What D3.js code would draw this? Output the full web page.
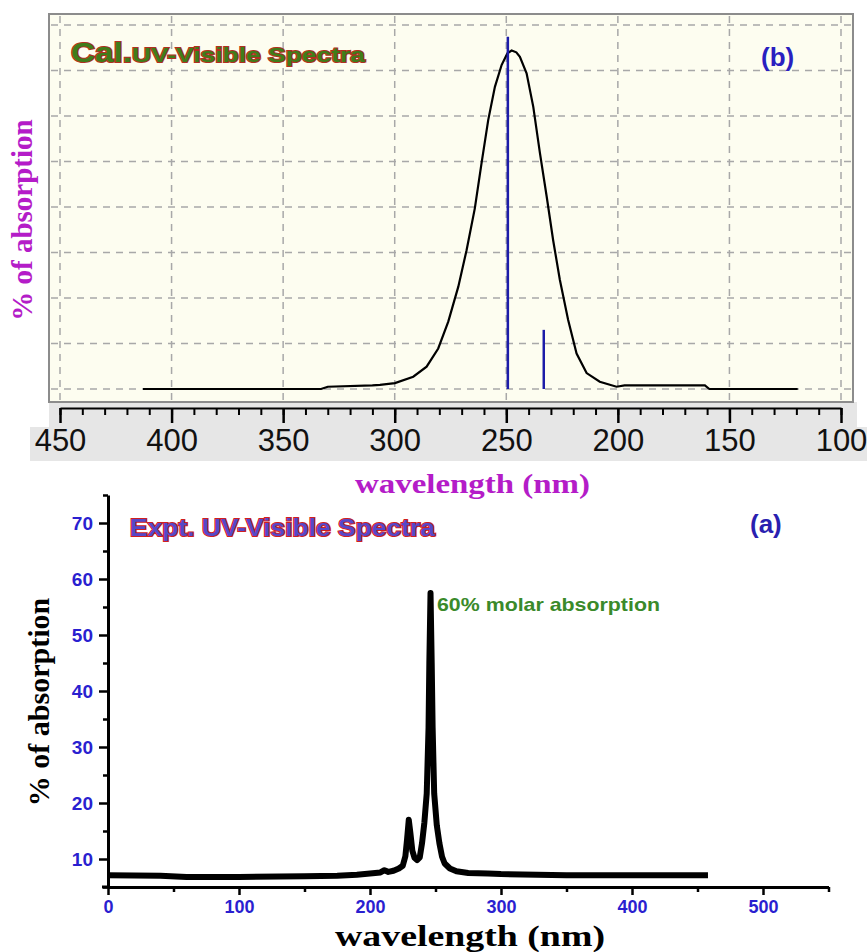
<!DOCTYPE html>
<html>
<head>
<meta charset="utf-8">
<script src="https://cdn.jsdelivr.net/npm/d3@7"></script>
<style>
  body { margin: 0; background: #fff; }
  svg { display: block; }
</style>
</head>
<body>
<div id="chart"></div>
<script>
// panel (b): calculated spectrum, [wavelength nm, relative absorption]
const calCurve = [
  [412.8, 0], [333, 0], [330, 0.05], [310, 0.08], [306.6, 0.09], [299.9, 0.13],
  [291.7, 0.27], [285.7, 0.49], [280.5, 0.89], [276.0, 1.48], [271.5, 2.25],
  [267.8, 3.05], [264.1, 3.97], [261.1, 4.96], [258.1, 5.91], [255.1, 6.64],
  [252.1, 7.12], [249.5, 7.38], [247.6, 7.44], [245.5, 7.40], [243.9, 7.30],
  [240.9, 6.94], [237.9, 6.20], [234.9, 5.18], [231.9, 4.23], [229.0, 3.27],
  [226.0, 2.40], [222.3, 1.52], [218.5, 0.78], [214.0, 0.35], [208.1, 0.16],
  [200.6, 0.05], [197, 0.08], [161, 0.08], [159, 0], [119.4, 0]
];
const calSticks = [[249.3, 7.74], [233.2, 1.30]];
const calTicks = [450, 400, 350, 300, 250, 200, 150, 100];
const calGrid = [0, 1, 2, 3, 4, 5, 6, 7, 8];

// panel (a): experimental spectrum, [wavelength nm, % absorption]
const exptCurve = [
  [0, 7.1], [40, 7.0], [60, 6.8], [100, 6.8], [150, 6.9], [175, 7.0], [190, 7.2],
  [200, 7.4], [208, 7.6], [211, 8.0], [214, 7.7], [218, 7.9], [222, 8.3],
  [225, 8.8], [227, 10.5], [228.3, 13.5], [229.6, 17.0], [230.9, 14.5],
  [232.3, 11.5], [234, 10.2], [235.9, 9.8], [238, 10.3], [239.7, 12.8],
  [241.5, 16.5], [243.3, 21.7], [244.7, 33.5], [245.3, 45], [246.2, 57.5],
  [247.1, 45], [247.8, 33.5], [249.0, 21.7], [251, 16], [253, 12.8], [255, 10.4],
  [257, 9.2], [261, 8.3], [266, 7.8], [275, 7.5], [290, 7.4], [300, 7.3],
  [350, 7.1], [400, 7.1], [458, 7.1]
];
const exptXTicks = [0, 100, 200, 300, 400, 500];
const exptYTicks = [10, 20, 30, 40, 50, 60, 70];

const width = 867;
const height = 952;
const svg = d3.select("#chart")
  .append("svg")
  .attr("width", width)
  .attr("height", height)
  .attr("viewBox", [0, 0, width, height]);

//---------------- panel (b) ----------------
const frame = {l: 49, r: 853, t: 14, b: 402};
const xTop = d3.scaleLinear().domain([450, 100]).range([60, 841]);
const yTop = d3.scaleLinear().domain([0, 8]).range([389, 25]);

// grey axis band
svg.append("rect").attr("x", 49).attr("y", frame.b).attr("width", 808).attr("height", 26).attr("fill", "#e6e6e6");
svg.append("rect").attr("x", 30).attr("y", 427).attr("width", 837).attr("height", 34).attr("fill", "#e6e6e6");

svg.append("rect")
  .attr("x", frame.l).attr("y", frame.t)
  .attr("width", frame.r - frame.l).attr("height", frame.b - frame.t)
  .attr("fill", "#fdfdf0")
  .attr("stroke", "#8c8c8c")
  .attr("stroke-width", 2);

// dashed grid
svg.append("g").selectAll("line")
  .data(calTicks).enter().append("line")
  .attr("x1", d => xTop(d)).attr("x2", d => xTop(d))
  .attr("y1", frame.t + 2).attr("y2", frame.b - 2)
  .attr("stroke", "#a8a8a8").attr("stroke-width", 1.5).attr("stroke-dasharray", "7,6");
svg.append("g").selectAll("line")
  .data(calGrid).enter().append("line")
  .attr("x1", frame.l + 2).attr("x2", frame.r - 2)
  .attr("y1", d => yTop(d)).attr("y2", d => yTop(d))
  .attr("stroke", "#a8a8a8").attr("stroke-width", 1.5).attr("stroke-dasharray", "7,6");

// curve
const lineTop = d3.line().x(d => xTop(d[0])).y(d => yTop(d[1]));
svg.append("path")
  .datum(calCurve)
  .attr("d", lineTop)
  .attr("fill", "none")
  .attr("stroke", "#000")
  .attr("stroke-width", 2.2);

// oscillator sticks
svg.append("g").selectAll("line")
  .data(calSticks).enter().append("line")
  .attr("x1", d => xTop(d[0])).attr("x2", d => xTop(d[0]))
  .attr("y1", yTop(0)).attr("y2", d => yTop(d[1]))
  .attr("stroke", "#1c1ca8").attr("stroke-width", 2.5);

// axis with minor ticks
const axTopMinor = svg.append("g")
  .attr("transform", "translate(0,408)")
  .call(d3.axisBottom(xTop).ticks(35).tickSize(7).tickSizeOuter(0).tickFormat(""));
axTopMinor.selectAll("line").attr("stroke-width", 2);
axTopMinor.select(".domain").attr("stroke-width", 2);

const axTop = svg.append("g")
  .attr("transform", "translate(0,408)")
  .call(d3.axisBottom(xTop).tickValues(calTicks).tickSize(15).tickSizeOuter(0).tickPadding(6));
axTop.select(".domain").remove();
axTop.selectAll("line").attr("stroke-width", 2.5);
axTop.selectAll("text")
  .attr("font-family", "'Liberation Sans Narrow', 'Liberation Sans', sans-serif")
  .attr("font-size", 31)
  .attr("fill", "#111");

svg.append("text")
  .attr("transform", "translate(22,220) rotate(-90)")
  .attr("text-anchor", "middle")
  .attr("dy", "0.35em")
  .attr("font-family", "'Liberation Serif', serif")
  .attr("font-weight", "bold")
  .attr("font-size", 29)
  .attr("fill", "#b41cc8")
  .text("% of absorption");

svg.append("text")
  .attr("x", 355).attr("y", 493)
  .attr("textLength", 235)
  .attr("lengthAdjust", "spacingAndGlyphs")
  .attr("font-family", "'Liberation Serif', serif")
  .attr("font-weight", "bold")
  .attr("font-size", 27)
  .attr("fill", "#b41cc8")
  .text("wavelength (nm)");

const calTitle = svg.append("text")
  .attr("x", 71).attr("y", 62)
  .attr("font-family", "'Liberation Sans', Arial, sans-serif")
  .attr("font-weight", "bold")
  .attr("fill", "#3f7d1a")
  .attr("stroke", "#b03020")
  .attr("stroke-width", 2)
  .attr("paint-order", "stroke");
calTitle.append("tspan").attr("font-size", 27).attr("textLength", 61).attr("lengthAdjust", "spacingAndGlyphs").text("Cal.");
calTitle.append("tspan").attr("font-size", 21).attr("textLength", 233).attr("lengthAdjust", "spacingAndGlyphs").text("UV-Visible Spectra");

svg.append("text")
  .attr("x", 761).attr("y", 66)
  .attr("font-family", "'Liberation Sans', Arial, sans-serif")
  .attr("font-weight", "bold")
  .attr("font-size", 26)
  .attr("fill", "#2a1fc0")
  .text("(b)");

//---------------- panel (a) ----------------
const xBot = d3.scaleLinear().domain([0, 550]).range([108, 828.5]);
const yBot = d3.scaleLinear().domain([5, 75]).range([887, 495]);
const tickBlue = "#2a1fd0";

const axY = svg.append("g")
  .attr("transform", "translate(108,0)")
  .call(d3.axisLeft(yBot).tickValues(exptYTicks).tickSize(9).tickSizeOuter(0).tickPadding(6));
axY.selectAll("line").attr("stroke-width", 2.5);
axY.select(".domain").attr("stroke-width", 3);
axY.selectAll("text")
  .attr("font-family", "'Liberation Sans', Arial, sans-serif")
  .attr("font-weight", "bold")
  .attr("font-size", 19)
  .attr("fill", tickBlue);
const axYMinor = svg.append("g")
  .attr("transform", "translate(108,0)")
  .call(d3.axisLeft(yBot).tickValues(yBot.ticks(14).filter(d => d % 10 !== 0)).tickSize(5).tickSizeOuter(0).tickFormat(""));
axYMinor.select(".domain").remove();
axYMinor.selectAll("line").attr("stroke-width", 2.5);

const axX = svg.append("g")
  .attr("transform", "translate(0,887)")
  .call(d3.axisBottom(xBot).tickValues(exptXTicks).tickSize(8).tickSizeOuter(0).tickPadding(5));
axX.selectAll("line").attr("stroke-width", 2.5);
axX.select(".domain").attr("stroke-width", 3);
axX.selectAll("text")
  .attr("font-family", "'Liberation Sans', Arial, sans-serif")
  .attr("font-weight", "bold")
  .attr("font-size", 18)
  .attr("fill", tickBlue);
const axXMinor = svg.append("g")
  .attr("transform", "translate(0,887)")
  .call(d3.axisBottom(xBot).tickValues(xBot.ticks(11).filter(d => d % 100 !== 0)).tickSize(5).tickSizeOuter(0).tickFormat(""));
axXMinor.select(".domain").remove();
axXMinor.selectAll("line").attr("stroke-width", 2.5);
svg.append("line").attr("x1", 102).attr("x2", 108).attr("y1", 887).attr("y2", 887)
  .attr("stroke", "#000").attr("stroke-width", 3);

const lineBot = d3.line().x(d => xBot(d[0])).y(d => yBot(d[1]));
svg.append("path")
  .datum(exptCurve)
  .attr("d", lineBot)
  .attr("fill", "none")
  .attr("stroke", "#000")
  .attr("stroke-width", 6)
  .attr("stroke-linejoin", "round");

svg.append("text")
  .attr("transform", "translate(38,702) rotate(-90)")
  .attr("text-anchor", "middle")
  .attr("dy", "0.35em")
  .attr("font-family", "'Liberation Serif', serif")
  .attr("font-weight", "bold")
  .attr("font-size", 30)
  .attr("fill", "#000")
  .text("% of absorption");

svg.append("text")
  .attr("x", 470).attr("y", 946)
  .attr("text-anchor", "middle")
  .attr("textLength", 270)
  .attr("lengthAdjust", "spacingAndGlyphs")
  .attr("font-family", "'Liberation Serif', serif")
  .attr("font-weight", "bold")
  .attr("font-size", 29)
  .attr("fill", "#000")
  .text("wavelength (nm)");

svg.append("text")
  .attr("x", 130).attr("y", 536)
  .attr("textLength", 305)
  .attr("lengthAdjust", "spacingAndGlyphs")
  .attr("font-family", "'Liberation Sans', Arial, sans-serif")
  .attr("font-weight", "bold")
  .attr("font-size", 23)
  .attr("fill", "#5648c8")
  .attr("stroke", "#d02020")
  .attr("stroke-width", 2)
  .attr("paint-order", "stroke")
  .text("Expt. UV-Visible Spectra");

svg.append("text")
  .attr("x", 750).attr("y", 533)
  .attr("font-family", "'Liberation Sans', Arial, sans-serif")
  .attr("font-weight", "bold")
  .attr("font-size", 26)
  .attr("fill", "#2a1fb0")
  .text("(a)");

svg.append("text")
  .attr("x", 437).attr("y", 611)
  .attr("textLength", 223)
  .attr("lengthAdjust", "spacingAndGlyphs")
  .attr("font-family", "'Liberation Sans', Arial, sans-serif")
  .attr("font-weight", "bold")
  .attr("font-size", 19)
  .attr("fill", "#3a8a2a")
  .text("60% molar absorption");
</script>
</body>
</html>
